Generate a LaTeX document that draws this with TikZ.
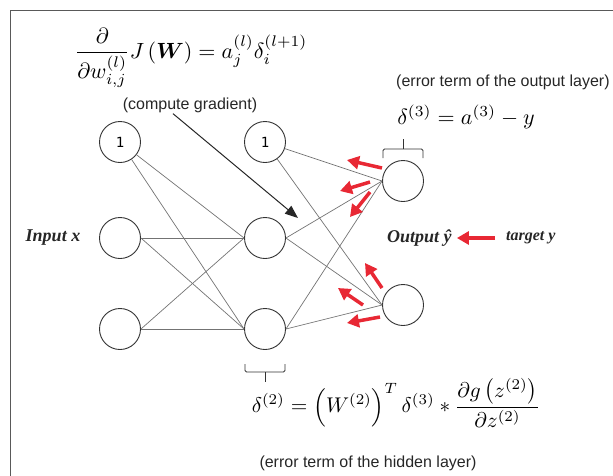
\documentclass[tikz,border=0pt]{standalone}
\usepackage{amsmath, amssymb}
\usepackage{fontspec}
\newfontfamily\labelfont{Liberation Serif}
\newfontfamily\notefont{Liberation Sans}
\newfontfamily\unitfont{DejaVu Sans Mono}
\usetikzlibrary{arrows.meta, positioning}
\definecolor{backred}{RGB}{232,40,52}

\begin{document}
\begin{tikzpicture}[x=1pt, y=-1pt,
    unit/.style={circle, draw=black!80, line width=0.9pt, minimum size=41pt, inner sep=0pt,
      font=\unitfont\fontsize{14}{14}\selectfont},
    wire/.style={draw=black!55, line width=0.7pt},
    back/.style={draw=backred, line width=3.5pt, -{Triangle[length=12pt,width=13pt]}},
    note/.style={inner sep=1pt, font=\notefont\fontsize{16}{18}\selectfont, text=black!85},
    layername/.style={inner sep=0pt, font=\labelfont\bfseries\itshape\fontsize{18}{20}\selectfont, text=black!85},
    brace/.style={draw=black!80, line width=0.8pt, rounded corners=1.5pt}]
      \useasboundingbox (0,0) rectangle (613,475);
      \draw[black!65, line width=1pt] (10,10) rectangle (640,500);
      % units
      \node[unit] (ib) at (120,142) {1};
      \node[unit] (i1) at (120,238) {};
      \node[unit] (i2) at (120,329) {};
      \node[unit] (hb) at (265,142) {1};
      \node[unit] (h1) at (265,238) {};
      \node[unit] (h2) at (265,329) {};
      \node[unit] (o1) at (403,181) {};
      \node[unit] (o2) at (403,305) {};
      % weights
      \foreach \b in {h1,h2} {
        \draw[wire] (ib) -- (\b.west);
        \draw[wire] (i1.east) -- (\b.west);
        \draw[wire] (i2.east) -- (\b.west);
      }
      \foreach \b in {o1,o2} {
        \draw[wire] (hb) -- (\b.west);
        \draw[wire] (h1.east) -- (\b.west);
        \draw[wire] (h2.east) -- (\b.west);
      }
      % layer labels
      \node[layername] (inx) at (53,238) {Input x};
      \node[layername, anchor=west] (outy) at (387,238) {Output \^{y}};
      \node[layername, anchor=west, font=\labelfont\bfseries\itshape\fontsize{16}{18}\selectfont] (tgt) at (506,238) {target y};
      \draw[back, shorten <=11pt, shorten >=5pt] (tgt.west) -- (outy.east);
      % error flowing back
      \draw[back] (382,168) -- (347,160);
      \draw[back] (370,182) -- (340,191);
      \draw[back] (370,192) -- (350,217);
      \draw[back] (382,288) -- (365,263);
      \draw[back] (363,305) -- (338,288);
      \draw[back] (380,317) -- (347,323);
      % gradient
      \node (gradeq) at (191,58) {\scalebox{2.2}{$\displaystyle \frac{\partial}{\partial w^{(l)}_{i,j}} J\left(\boldsymbol{W}\right) = a^{(l)}_j \delta^{(l+1)}_i$}};
      \node[note] (grad) at (190,105) {(compute gradient)};
      \coordinate (gradtip) at (298,218);
      \draw[black!85, line width=1pt, -{Triangle[length=13pt,width=10pt]}] ([xshift=-17pt]grad.south) -- (gradtip);
      % output layer error
      \node[note, anchor=west] (outnote) at (395,82) {(error term of the output layer)};
      \node (outerr) at (466,117) {\scalebox{2.2}{$\delta^{(3)} = a^{(3)} - y$}};
      \draw[brace] (383,158) -- (383,149) -- (423,149) -- (423,158);
      \draw[brace] (403,149) -- (403,139);
      % hidden layer error
      \draw[brace] (245,364) -- (245,372) -- (285,372) -- (285,364);
      \draw[brace] (265,372) -- (265,382);
      \node (hiderr) at (396,403) {\scalebox{2.13}{$\displaystyle \delta^{(2)} = \left(W^{(2)}\right)^{T} \delta^{(3)} * \frac{\partial g\left(z^{(2)}\right)}{\partial z^{(2)}}$}};
      \node[note] (hidnote) at (368,463) {(error term of the hidden layer)};
    \end{tikzpicture}
\end{document}
